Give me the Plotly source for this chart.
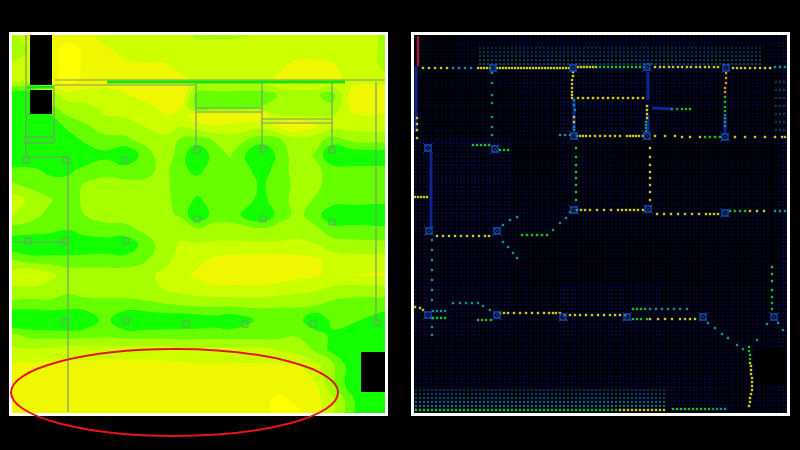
import plotly.graph_objects as go

# ---------- left panel: signal level grid ----------
left_x = [12,30,50,68,85,105,125,145,165,180,197,215,230,263,280,297,315,332,355,387]
left_y = [35,50,65,80,95,108,115,125,140,155,170,185,200,215,230,245,260,275,290,305,320,335,350,365,385,400,413]
left_z = [
 [2.4,3,4,4,4,3,3,3,3,3,2.3,2.3,2.3,2.6,3,3,3,3,3,2.3],
 [2,2.6,4,5,4.3,3.7,3.2,3,3,3,3,3,3,3,3,3,3,3,3,2.3],
 [2.6,3,4,5,4.3,4,3.7,3.6,3.6,3.2,3,3,3,3,3.3,3.8,3.8,3.6,3,2.3],
 [3,3,4,5,4.2,4,4,4,4,3.8,3.2,3,3,3,3.8,4,4,3.8,3,2.7],
 [-0.3,-0.3,2,3,3,3,3.4,4,4.5,4.6,1,1,1,1,1.6,1.7,1.7,1,4.5,4.5],
 [-0.6,-0.6,1.2,2,2.2,2.7,3,3,3.8,3.6,1.2,1.2,1.2,1.6,2,2.2,2.2,1.8,4,3.7],
 [-0.6,-0.6,0.4,1.6,2,2.5,2.7,3,3.5,3,4,4.5,4,4,2.4,2.4,2.4,2.4,3.4,3.4],
 [-0.8,-0.8,-0.5,1,1.4,2,2,2.6,3,2.7,3.2,3.6,3.4,3,4,4.6,3.6,3,3,3],
 [-1,-1,-0.8,-0.3,0.8,1.2,1.3,1.8,2.2,1.4,1,1.6,2,1,1.4,2,2,1,1.8,1.8],
 [-1,-1,-1,-1,-0.6,0.2,-0.6,1,2.2,1,-0.5,1,1.6,-0.8,1,2,1.4,-0.5,-0.3,-0.3],
 [0.8,0.8,0.2,0.2,0.9,1.2,1,1.2,1.8,0.8,0.2,1,1.2,0.1,1,2,1.8,1,0.8,0.8],
 [1.7,1.2,1,1,1.6,1.8,1.8,1.7,1.7,1.1,1,1,1,0.4,1,1.8,1.8,1,1,1],
 [3,2.3,1.6,1,1.7,2,2,1.9,1.7,1.2,0.3,1,1,0.3,1,2,1.4,1,1,0.8],
 [2.6,1.9,1.2,1,1.5,1.8,1.9,1.8,1.7,1.4,-0.5,1,1,-0.5,1,1.8,1,-0.3,-0.5,-0.5],
 [1,1,0.8,0.5,1,1.2,1.2,1.7,2,2.2,1.8,2,2,1.8,2,2.2,1.8,1,1,0.8],
 [-0.3,-0.6,-0.6,-0.6,-0.4,-0.2,-0.5,1,2,2.6,2.6,2.7,2.7,2.7,2.7,2.7,2.6,2,1.8,1.8],
 [1.6,1,1,1,1,1,1,1.4,2.1,3,3.2,3.7,3.9,4,4,3.9,3.7,3.1,3,3],
 [3,3.6,2.8,2,2,2,2,2.2,2.8,3.2,3.7,4.1,4.1,4.1,4,3.8,3.6,3.3,3.5,3.6],
 [2.3,2.2,2,1.7,2,2,2,2.2,2.5,2.8,3,3.2,3.2,3.2,3,2.8,2.6,2.2,2,2],
 [1.1,1,1.2,1,1,1.1,1.1,1.2,1.4,1.5,1.7,1.7,1.7,1.7,1.6,1.6,1.6,1.2,1,1],
 [-0.8,-0.8,-0.8,-0.8,-0.4,0.9,-0.5,-0.5,-0.3,-0.3,-0.2,0,-0.3,0.8,1,1,-0.5,0.8,0.7,-0.5],
 [1.7,1.2,1.1,1,1.1,1.2,1,1,1,1,1,1,1,1,1.2,1.4,1,0.3,-0.5,-0.5],
 [2.8,2.6,2.8,3,3,3,3,3,3,2.8,2.8,2.8,2.8,2.8,2.4,2.2,1.4,0.2,-0.5,-0.5],
 [3.7,3.7,3.7,3.7,3.7,3.8,3.8,3.8,3.7,3.7,3.6,3.6,3.6,3.6,3.6,3.5,2.8,1.8,-0.5,-0.5],
 [4,4,4,4,4,4,4,4,4,4,4,4,4,4,4,4,3.6,1.8,-0.5,-0.5],
 [4,4,4,4,4,4,4,4,4,4,4,4,4,4.2,4.8,4.2,3.9,2.8,0.4,-0.5],
 [4,4,4,4,4,4,4,4,4,4,4,4,4,4.2,5,4.8,3.9,2.8,0.4,-0.5],
]
level_colors = ["#12ff00","#66ff00","#a6ff00","#ccff00","#f0f800","#ffff00"]

# walls: (x list, y list)
walls = [
 ([55,385],[80,80]), ([55,195],[85,85]),
 ([196,196],[82,150]), ([262,262],[82,150]), ([332,332],[82,150]),
 ([376,376],[82,323]), ([68,68],[157,412]),
 ([26,26],[35,157]), ([54,54],[85,140]),
 ([196,262],[108,108]), ([196,262],[112,112]), ([262,332],[119,119]), ([262,332],[123,123]),
 ([24,55],[137,137]), ([24,55],[143,143]), ([24,68],[157,157]), ([12,68],[242,242]),
]
green_walls = [([107,345],[82,82]), ([27,53],[87,87])]
column_x = [26,66,125,197,263,332,197,263,332,28,65,126,65,126,186,245,313,377]
column_y = [160,160,160,150,149,150,219,219,222,241,241,241,322,321,324,324,324,323]

# ---------- right panel ----------
bg_x = [436,485,535,585,635,685,748]
bg_y = [60,110,160,210,260,310,360,400]
bg_z = [
 [0,1,2,2,2,2,1],
 [0,0,1,2,2,1,1],
 [2,2,0,1,0,0,0],
 [2,2,1,1,1,1,1],
 [1,1,0,0,0,0,0],
 [2,2,1,2,2,1,1],
 [1,1,1,1,1,1,1],
 [2,2,2,2,2,2,1],
]
top_grid_x = [480,484,488,492,496,500,504,508,512,516,520,524,528,532,536,540,544,548,552,556,560,564,568,572,576,580,584,588,592,596,600,604,608,612,616,620,624,628,632,636,640,644,648,652,656,660,664,668,672,676,680,684,688,692,696,700,704,708,712,716,720,724,728,732,736,740,744,748,752,756,760]
top_grid_y = [48,52,56,60,64]
top_grid_colors = ["#08252c","#0a2c34","#0c343c","#0d3a42","#0e4048"]
bot_grid_x = [416,420,424,428,432,436,440,444,448,452,456,460,464,468,472,476,480,484,488,492,496,500,504,508,512,516,520,524,528,532,536,540,544,548,552,556,560,564,568,572,576,580,584,588,592,596,600,604,608,612,616,620,624,628,632,636,640,644,648,652,656,660,664]
bot_grid_y = [390,394,398,402,406]
bot_grid_colors = ["#0a2c48","#0b3a54","#0c4a60","#0e5c6c","#0e7078"]
side_grid_x = [772,776,780,784]
side_grid_y = [82,90,98,106,114,122,130]

Y,G,C,B,O = "#c8c820","#22b82c","#148c90","#1a48e0","#d89020"
# colour, x list, y list (a single y means a horizontal row)
dot_rows = [
 (Y,[423,429,435,441,447],[68]),
 (C,[453,459,465,471],[68]),
 (Y,[478,481,484,487,490,497,500,503,506,509,512,515,518,521,524,527,530,533,536,539,542,545,548,551,554,557,560,563,566,569],[68]),
 (Y,[578,581,584,587,590,593,596],[67]),
 (G,[600,604,608,612,616,620,624,628,632,636,640,644],[67]),
 (Y,[655,660,664,669,673,678,682,687,691,696,700,705,709,714,718],[67]),
 (Y,[733,737,741,745,750,755,760,765,770],[68]),
 (C,[775,780,785],[67]),
 (Y,[573,573,572,572,572,572,572,572],[72,76,80,84,88,92,95,98]),
 (C,[574,574,575,574,574],[100,105,110,127,130]),
 (Y,[574,574],[117,122]),
 (Y,[647,647,647,647],[106,110,114,118]),
 (C,[646,646,646,646],[122,125,128,131]),
 (Y,[578,583,588,593,598,603,608,613,618,623,628,633,638,643],[98]),
 (C,[672,677],[109]),
 (G,[682,686,690],[109]),
 (O,[726,726,726,725,725],[73,78,83,88,92]),
 (G,[725,725,725,725],[97,102,107,111]),
 (C,[725,725,725,725],[115,118,122,126]),
 (Y,[577,580,583,586,590,595,600,605,610,615,620,627,630,633,636,639,643],[136]),
 (Y,[655,665,675],[136]),
 (Y,[682,690,700],[137]),
 (G,[705,710,715,720],[137]),
 (Y,[735,745,755,765,775,782,785],[137]),
 (C,[492,492,492,492,492,492,492],[73,83,95,103,117,127,135]),
 (G,[473,477,481,485,489],[145]),
 (G,[500,504,508],[150]),
 (C,[560,565,570],[135]),
 (C,[432,432,432,432,432,432,432,432,432,432],[240,250,260,270,280,290,300,318,327,335]),
 (Y,[415,418,421,424,427],[197]),
 (Y,[417,417,417,417],[118,124,130,138]),
 (Y,[437,443,449,455,461,467,473,479,485,489],[236]),
 (G,[522,527,532,537,542,547],[235]),
 (C,[553,560,566,570,503,508,513,517],[230,223,218,212,242,247,253,258]),
 (C,[503,510,517],[225,220,217]),
 (G,[576,576,576,576,576,576,576,576],[148,157,165,172,178,185,192,200]),
 (Y,[650,650,650,650,650,650,650,650],[148,157,165,172,178,185,192,200]),
 (Y,[577,581,585,590,597,604,611,618,622,626,630,634,638,643],[210]),
 (Y,[657,664,671,678,685,692,699,706,710,714,718],[214]),
 (G,[730,735,740,745],[211]),
 (Y,[750,757,764,771],[211]),
 (C,[775,780,785],[211]),
 (G,[772,772,772,772,772,772,772],[267,274,281,290,297,303,309]),
 (Y,[415,420,423],[307,308,310]),
 (C,[433,437,441,445],[311]),
 (G,[433,437,441,445],[318]),
 (C,[453,460,466,472,478,483,490],[303,303,303,303,303,306,310]),
 (G,[478,482,486,491],[320]),
 (Y,[500,504,508,514,520,526,532,538,544,549,553,556,560],[313]),
 (Y,[565,570,575,580,586,592,598,604,610,615,620,625],[315]),
 (G,[633,637,641,645],[309]),
 (C,[650,656,662,668,674,680,687],[309]),
 (G,[633,637,641,647],[319]),
 (Y,[650,658,665,672,680,685,690,695],[319]),
 (C,[708,715,722,728,737,743,757,767,778,783],[323,328,334,338,345,349,340,324,323,330]),
 (G,[749,749,750,750],[347,351,355,359]),
 (Y,[750,751,751,751,752,752,752,752,751,750,750,749],[363,366,370,374,378,382,386,390,394,398,402,406]),
 (G,[416,420,424,428,432,436,440,444,448,452,456,460,464,468,472,476,480,484,488,492,496,500,504,508,512,516,520,524,528,532,536,540,544,548,552,556,560,564,568,572,576,580,584,588,592,596,600,604,608,612,616],[410]),
 (Y,[620,624,628,632,636,640,644,648,652,656,660,664],[410]),
 (G,[673,677,681,685,689,693,697,701,705,709],[409]),
 (C,[713,717,721,725],[409]),
]
# faint blue runs drawn as lines
blue_runs = [
 ([431,431],[152,228]), ([648,648],[72,100]), ([574,574],[100,130]),
 ([725,725],[118,134]), ([648,648],[115,132]), ([652,672],[108,109]),
 ([416,416],[66,132]),
]
node_x = [493,573,647,726,428,495,574,647,725,574,648,725,429,497,428,497,563,627,703,774]
node_y = [68,68,67,68,148,149,136,136,137,210,209,213,231,231,315,315,317,317,317,317]
red_run_x = [418,418]
red_run_y = [36,66]

# ---------- figure ----------
fig = go.Figure()
n = len(level_colors) - 1
fig.add_trace(go.Contour(
    x=left_x, y=left_y, z=left_z, zmin=0, zmax=5, showscale=False, hoverinfo="skip",
    autocontour=False, contours=dict(start=0.5, end=4.5, size=1, coloring="fill", showlines=False),
    line=dict(width=0, smoothing=1.3),
    colorscale=[[i/n, c] for i, c in enumerate(level_colors)],
    xaxis="x", yaxis="y"))
for xs, ys in walls:
    fig.add_trace(go.Scatter(x=xs, y=ys, mode="lines", line=dict(color="#7f9a70", width=1.2),
                             xaxis="x", yaxis="y", showlegend=False, hoverinfo="skip"))
for xs, ys in green_walls:
    fig.add_trace(go.Scatter(x=xs, y=ys, mode="lines", line=dict(color="#10e810", width=3),
                             xaxis="x", yaxis="y", showlegend=False, hoverinfo="skip"))
fig.add_trace(go.Scatter(x=column_x, y=column_y, mode="markers",
                         marker=dict(symbol="square-open", size=6, color="#6fa060", line=dict(width=1)),
                         xaxis="x", yaxis="y", showlegend=False, hoverinfo="skip"))

fig.add_trace(go.Heatmap(
    x=bg_x, y=bg_y, z=bg_z, zmin=0, zmax=3, showscale=False, hoverinfo="skip",
    colorscale=[[0,"rgba(0,0,0,0.5)"],[0.34,"rgba(0,0,0,0.3)"],[0.67,"rgba(0,0,30,0.1)"],[1,"rgba(0,0,120,0.3)"]],
    xaxis="x2", yaxis="y2"))
def add_grid(xs, ys, colors):
    for y, c in zip(ys, colors):
        fig.add_trace(go.Scatter(x=xs, y=[y] * len(xs), mode="markers",
                                 marker=dict(symbol="square", size=2.2, color=c, line=dict(width=0)),
                                 xaxis="x2", yaxis="y2", showlegend=False, hoverinfo="skip"))
add_grid(top_grid_x, top_grid_y, top_grid_colors)
add_grid(bot_grid_x, bot_grid_y, bot_grid_colors)
add_grid(side_grid_x, side_grid_y, ["#0a3a40"] * len(side_grid_y))
for xs, ys in blue_runs:
    fig.add_trace(go.Scatter(x=xs, y=ys, mode="lines", line=dict(color="#0c2494", width=3),
                             xaxis="x2", yaxis="y2", showlegend=False, hoverinfo="skip"))
fig.add_trace(go.Scatter(x=red_run_x, y=red_run_y, mode="lines", line=dict(color="#a81838", width=2.4),
                         xaxis="x2", yaxis="y2", showlegend=False, hoverinfo="skip"))
for color, xs, ys in dot_rows:
    fig.add_trace(go.Scatter(x=xs, y=(ys * len(xs) if len(ys) == 1 else ys), mode="markers",
                             marker=dict(symbol="square", size=2.4, color=color, line=dict(width=0)),
                             xaxis="x2", yaxis="y2", showlegend=False, hoverinfo="skip"))
fig.add_trace(go.Scatter(x=node_x, y=node_y, mode="markers",
                         marker=dict(symbol="x-thin-open", size=10, color="rgba(20,130,160,0.45)", line=dict(width=1)),
                         xaxis="x2", yaxis="y2", showlegend=False, hoverinfo="skip"))
fig.add_trace(go.Scatter(x=node_x, y=node_y, mode="markers",
                         marker=dict(symbol="square-open", size=6, color="#1848c8", line=dict(width=1.3)),
                         xaxis="x2", yaxis="y2", showlegend=False, hoverinfo="skip"))

W, H = 800, 450
def px(v): return v / W
def py(v): return 1 - v / H

shapes = []
for x0, y0, x1, y1 in [(30,35,52,85),(30,90,52,114),(361,352,386,392)]:
    shapes.append(dict(type="rect", xref="x", yref="y", x0=x0, y0=y0, x1=x1, y1=y1,
                       fillcolor="black", line=dict(width=0), layer="above"))
for x0, y0, x1, y1 in [(754,347,786,385),(769,72,773,132),(769,140,773,264)]:
    shapes.append(dict(type="rect", xref="x2", yref="y2", x0=x0, y0=y0, x1=x1, y1=y1,
                       fillcolor="black", line=dict(width=0), layer="above"))
shapes.append(dict(type="circle", xref="paper", yref="paper",
                   x0=px(11), x1=px(338), y0=py(349), y1=py(436),
                   line=dict(color="#e8141c", width=2), layer="above"))

axis_common = dict(showticklabels=False, ticks="", zeroline=False, showline=True, mirror=True,
                   linecolor="white", linewidth=3)
fig.update_layout(
    width=W, height=H, margin=dict(l=0, r=0, t=0, b=0), autosize=False, showlegend=False,
    paper_bgcolor="black", plot_bgcolor="#000a44", shapes=shapes,
    xaxis=dict(domain=[px(12), px(385)], range=[12, 385], showgrid=False, **axis_common),
    yaxis=dict(domain=[py(413), py(35)], range=[413, 35], showgrid=False, **axis_common),
    xaxis2=dict(domain=[px(414), px(787)], range=[414, 787], anchor="y2", showgrid=True, dtick=3.7,
                gridcolor="black", gridwidth=1.6, **axis_common),
    yaxis2=dict(domain=[py(413), py(35)], range=[413, 35], anchor="x2", showgrid=True, dtick=3.7,
                gridcolor="black", gridwidth=1.6, **axis_common),
)
fig.write_html("out.html", config=dict(displayModeBar=False, staticPlot=True),
               post_script="document.body.style.margin='0';")
